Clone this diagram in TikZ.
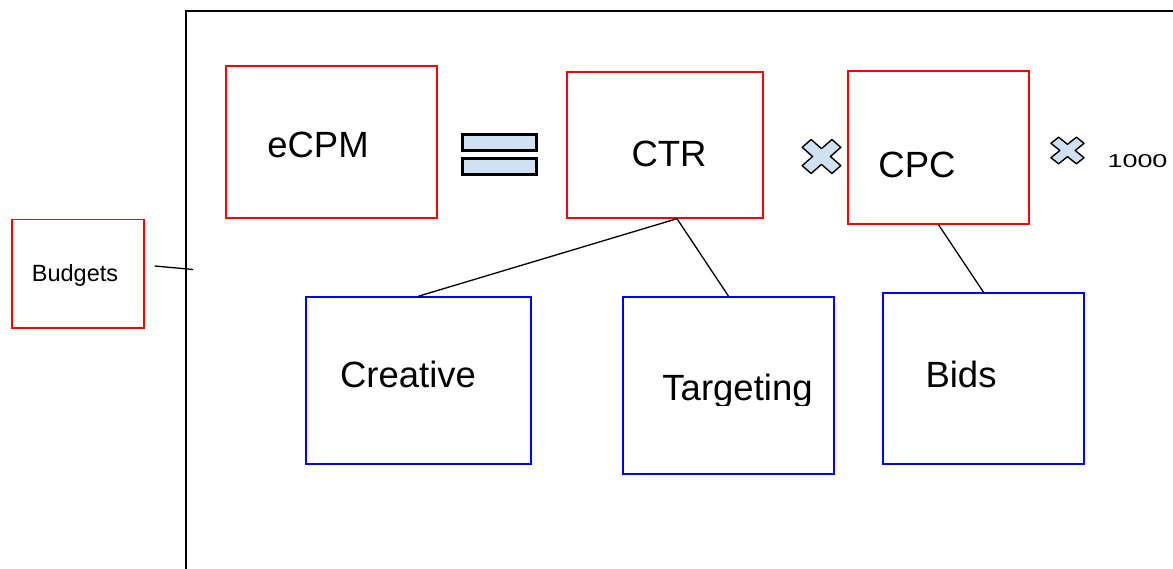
\documentclass[tikz,border=0pt]{standalone}
\usepackage{graphicx}
\usepackage{fontspec}
\setmainfont{Liberation Sans}
\definecolor{boxred}{RGB}{255,0,0}
\definecolor{boxblue}{RGB}{0,0,255}
\definecolor{opfill}{RGB}{207,226,243}
\tikzset{
  redbox/.style={draw=boxred, line width=1.4pt, rectangle, inner sep=0pt},
  bluebox/.style={draw=boxblue, line width=1.6pt, rectangle, inner sep=0pt},
  bigtext/.style={font=\fontsize{36.5}{42}\selectfont, anchor=base, inner sep=0pt},
  link/.style={draw=black, line width=1.3pt},
  eqbar/.style={draw=black, fill=opfill, line width=2.4pt},
  timesop/.style={draw=black, fill=opfill, line width=1.4pt, line join=round},
}
\newcommand{\timessign}[4]{%
  \begin{scope}[shift={(#1,#2)}, xscale=#3, yscale=#4, rotate=45]
    \path[timesop] (0.3,1) -- (-0.3,1) -- (-0.3,0.3) -- (-1,0.3) -- (-1,-0.3)
      -- (-0.3,-0.3) -- (-0.3,-1) -- (0.3,-1) -- (0.3,-0.3) -- (1,-0.3)
      -- (1,0.3) -- (0.3,0.3) -- cycle;
  \end{scope}}
\begin{document}
\begin{tikzpicture}[x=1pt, y=-1pt]
  \useasboundingbox (0,0) rectangle (1173,569);

  % outer frame (continues past the page edge)
  \draw[line width=1.8pt] (186,580) |- (1185,11);

  % top row: eCPM = CTR x CPC x 1000
  \node[redbox, minimum width=211pt, minimum height=152pt] (ecpm) at (331.5,142) {};
  \node[bigtext] (ecpm-t) at (318,158) {eCPM};

  \path[eqbar] (462.5,134.5) rectangle (536.5,150.5);
  \path[eqbar] (462.5,158.5) rectangle (536.5,174.5);

  \node[redbox, minimum width=196pt, minimum height=146pt] (ctr) at (665,145) {};
  \node[bigtext] (ctr-t) at (669,167) {CTR};

  \timessign{821.5}{156.5}{21}{18.5}

  \node[redbox, minimum width=181pt, minimum height=153pt] (cpc) at (938.5,147.5) {};
  \node[bigtext] (cpc-t) at (917,178) {CPC};

  \timessign{1067.5}{150.5}{18}{14.5}
  \node[font=\fontsize{18.6}{22}\selectfont, anchor=base, inner sep=0pt] (thousand) at (1137.5,168) {\scalebox{1.45}[1]{1000}};

  % side box
  \node[redbox, minimum width=132pt, minimum height=108.5pt] (budgets) at (78,273.7) {};
  \node[font=\fontsize{23.5}{28}\selectfont, anchor=base, inner sep=0pt] (budgets-t) at (75,282) {Budgets};
  \coordinate (frame-tick) at (193,269.5);
  \draw[line width=1.3pt] ([xshift=10pt,yshift=7.7pt]budgets.east) -- (frame-tick);

  % factor boxes
  \node[bluebox, minimum width=225pt, minimum height=167pt] (creative) at (418.5,380.5) {};
  \node[bigtext] (creative-t) at (408,387) {Creative};

  \node[bluebox, minimum width=211pt, minimum height=177pt] (targeting) at (728.5,385.5) {};
  \begin{scope}
    \clip (640,350) rectangle (830,405.5);
    \node[bigtext] (targeting-t) at (737.5,400) {Targeting};
  \end{scope}

  \node[bluebox, minimum width=201pt, minimum height=171pt] (bids) at (983.5,378.5) {};
  \node[bigtext] (bids-t) at (961,387) {Bids};

  % connectors
  \draw[link] ([xshift=12pt]ctr.south) -- (creative.north);
  \draw[link] ([xshift=12pt]ctr.south) -- (targeting.north);
  \draw[link] (cpc.south) -- (bids.north);
\end{tikzpicture}
\end{document}
